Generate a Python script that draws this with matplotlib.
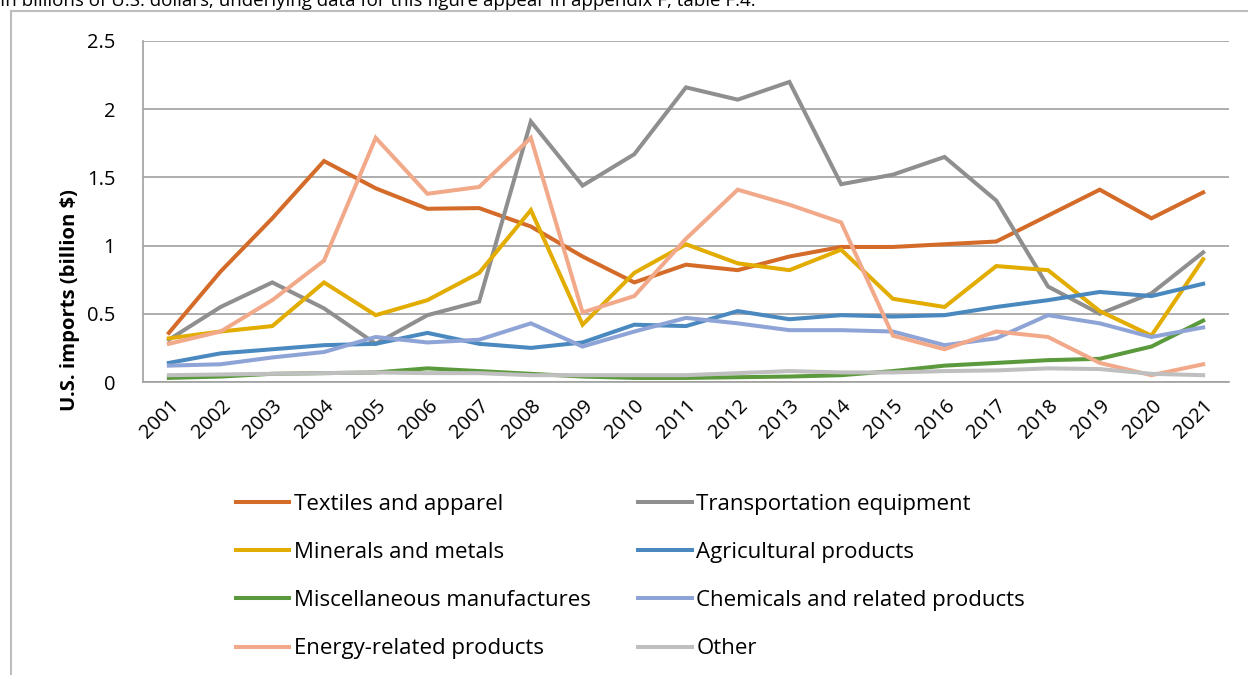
import matplotlib.pyplot as plt
from matplotlib.patches import Rectangle

plt.rcParams["font.family"] = ["Open Sans", "DejaVu Sans"]

years = [str(y) for y in range(2001, 2022)]

textiles = [0.36, 0.81, 1.20, 1.62, 1.42, 1.27, 1.275, 1.14, 0.92, 0.73, 0.86,
            0.82, 0.92, 0.99, 0.99, 1.01, 1.03, 1.22, 1.41, 1.20, 1.39]
transport = [0.31, 0.55, 0.73, 0.54, 0.28, 0.49, 0.59, 1.91, 1.44, 1.67, 2.16,
             2.07, 2.20, 1.45, 1.52, 1.65, 1.33, 0.70, 0.50, 0.65, 0.95]
minerals = [0.32, 0.37, 0.41, 0.73, 0.49, 0.60, 0.80, 1.26, 0.42, 0.80, 1.01,
            0.87, 0.82, 0.97, 0.61, 0.55, 0.85, 0.82, 0.52, 0.34, 0.90]
agricultural = [0.14, 0.21, 0.24, 0.27, 0.28, 0.36, 0.28, 0.25, 0.29, 0.42, 0.41,
                0.52, 0.46, 0.49, 0.48, 0.49, 0.55, 0.60, 0.66, 0.63, 0.72]
misc = [0.03, 0.04, 0.06, 0.065, 0.07, 0.10, 0.08, 0.06, 0.04, 0.03, 0.03,
        0.035, 0.04, 0.05, 0.08, 0.12, 0.14, 0.16, 0.17, 0.26, 0.45]
chemicals = [0.12, 0.13, 0.18, 0.22, 0.33, 0.29, 0.31, 0.43, 0.26, 0.37, 0.47,
             0.43, 0.38, 0.38, 0.37, 0.27, 0.32, 0.49, 0.43, 0.33, 0.40]
energy = [0.28, 0.37, 0.60, 0.89, 1.79, 1.38, 1.43, 1.79, 0.51, 0.63, 1.05,
          1.41, 1.30, 1.17, 0.34, 0.24, 0.37, 0.33, 0.14, 0.05, 0.13]
other = [0.05, 0.055, 0.06, 0.065, 0.07, 0.065, 0.065, 0.05, 0.05, 0.05, 0.05,
         0.065, 0.08, 0.07, 0.07, 0.08, 0.085, 0.10, 0.095, 0.06, 0.05]

series = [
    ("Textiles and apparel", textiles, "#D46B29"),
    ("Transportation equipment", transport, "#8F8F8F"),
    ("Minerals and metals", minerals, "#E2AC00"),
    ("Agricultural products", agricultural, "#4A89BF"),
    ("Miscellaneous manufactures", misc, "#5B9A3C"),
    ("Chemicals and related products", chemicals, "#8FA4D6"),
    ("Energy-related products", energy, "#F2A98A"),
    ("Other", other, "#BFBFBF"),
]

fig = plt.figure(figsize=(12.48, 6.75), dpi=100)
W, H = 1248, 675
ax = fig.add_axes([143 / W, 1 - 382 / H, (1229 - 143) / W, (382 - 41) / H])

x = list(range(len(years)))
for name, vals, color in series:
    ax.plot(x, vals, color=color, lw=2.9, label=name, solid_joinstyle="miter")

ax.set_xlim(-0.5, len(years) - 0.5)
ax.set_ylim(0, 2.5)
ax.set_yticks([0, 0.5, 1, 1.5, 2, 2.5])
ax.set_yticklabels(["0", "0.5", "1", "1.5", "2", "2.5"])
ax.set_xticks(x)
ax.set_xticklabels(years, rotation=45, ha="right", rotation_mode="anchor")
ax.tick_params(axis="both", length=0, labelsize=14.5)
ax.tick_params(axis="y", pad=20)
ax.tick_params(axis="x", pad=10)
ax.grid(axis="y", color="#A0A0A0", lw=1.2)
ax.set_axisbelow(True)
for side in ["top", "right"]:
    ax.spines[side].set_visible(False)
ax.spines["left"].set_color("#A0A0A0")
ax.spines["bottom"].set_color("#A0A0A0")
ax.spines["left"].set_linewidth(1.2)
ax.spines["bottom"].set_linewidth(1.2)
ax.set_ylabel("U.S. imports (billion $)", fontsize=14.6, fontweight="bold")
ax.yaxis.set_label_coords((80 - 143) / 1086, 0.24)

# legend fills column-wise, so interleave to get row-wise order
handles, labels = ax.get_legend_handles_labels()
order = [0, 2, 4, 6, 1, 3, 5, 7]
fig.legend([handles[i] for i in order], [labels[i] for i in order], ncol=2,
           loc="upper left", bbox_to_anchor=(216 / W, 1 - 474 / H),
           frameon=False, fontsize=16, handlelength=2.4, handletextpad=0.2,
           columnspacing=2.15, labelspacing=1.22)

# outer chart frame
fig.patches.append(Rectangle((11 / W, -0.1), 1.2, 1 - 11 / H + 0.1,
                             transform=fig.transFigure, fill=False,
                             edgecolor="#BDBDBD", lw=1.5))

fig.text(0.0, 0.999, "In billions of U.S. dollars; underlying data for this figure appear in appendix F, table F.4.",
         fontsize=13.5, va="center", ha="left")

fig.savefig("out.png", dpi=100)
